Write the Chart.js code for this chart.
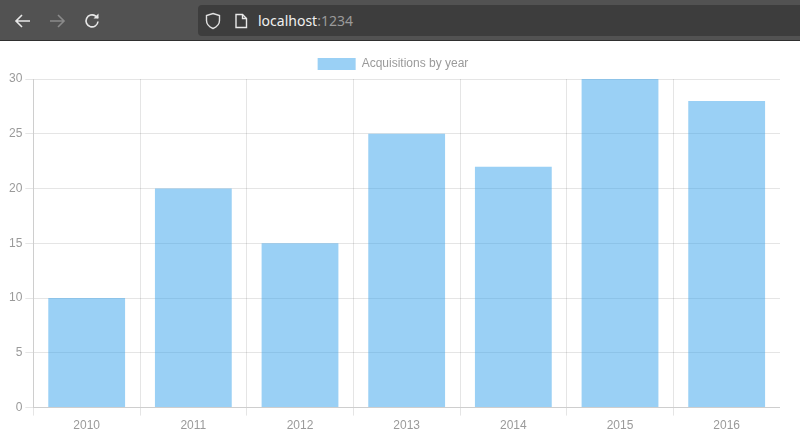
<!DOCTYPE html>
<html>
<head>
<meta charset="utf-8">
<title>Acquisitions by year</title>
<style>
  html, body { margin: 0; padding: 0; background: #fff; width: 800px; height: 440px; overflow: hidden; }
  #toolbar { position: absolute; left: 0; top: 0; width: 800px; height: 41px; background: #525252; border-bottom: 1px solid #2f2f2f; box-sizing: border-box; }
  #toolbar svg { position: absolute; }
  #urlbar { position: absolute; left: 198px; top: 5px; width: 602px; height: 31px; background: #3d3d3d; border-radius: 4px 0 0 4px; }
  #url { position: absolute; left: 258px; top: 11px; font: 14px/20px "Noto Sans", sans-serif; color: #f0f0f0; }
  #url span { color: #9a9a9a; }
  #chartBox { position: absolute; left: 6px; top: 47px; width: 774px; height: 389px; }
</style>
</head>
<body>
<div id="toolbar">
  <svg style="left:14px;top:12px" width="18" height="18" viewBox="0 0 18 18" fill="none" stroke="#e8e8e8" stroke-width="1.6"><path d="M16 9H2M8 3L2 9l6 6"/></svg>
  <svg style="left:48px;top:12px" width="18" height="18" viewBox="0 0 18 18" fill="none" stroke="#8a8a8a" stroke-width="1.6"><path d="M2 9h14M10 3l6 6-6 6"/></svg>
  <svg style="left:83px;top:12px" width="18" height="18" viewBox="0 0 18 18" fill="none" stroke="#e8e8e8" stroke-width="1.6"><path d="M15 9.500A6 6 0 1 1 12.500 4L15 6"/><path d="M15.500 1.500V6.500H10.500" fill="#e8e8e8" stroke="none"/></svg>
  <div id="urlbar"></div>
  <svg style="left:205px;top:12px" width="16" height="18" viewBox="0 0 16 18" fill="none" stroke="#e0e0e0" stroke-width="1.4"><path d="M8 1.500l6.500 2v5c0 4-3 6.500-6.500 8-3.500-1.500-6.500-4-6.500-8v-5z"/></svg>
  <svg style="left:234px;top:13px" width="14" height="16" viewBox="0 0 14 16" fill="none" stroke="#e8e8e8" stroke-width="1.4"><path d="M2 1.500h6.500L12.500 5.500v9h-10.500z"/><path d="M8.500 1.500v4h4"/></svg>
  <div id="url">localhost<span>:1234</span></div>
</div>
<div id="chartBox"><canvas id="chart"></canvas></div>

<script src="https://cdn.jsdelivr.net/npm/chart.js@4"></script>
<script>
const years = ['2010', '2011', '2012', '2013', '2014', '2015', '2016'];
const acquisitions = [10, 20, 15, 25, 22, 30, 28];

const tickColor = '#9a9a9a';
const gridColor = 'rgba(0, 0, 0, 0.1)';

Chart.defaults.font.family = '"Liberation Sans", Helvetica, Arial, sans-serif';
Chart.defaults.font.size = 12;

new Chart(document.getElementById('chart'), {
    type: 'bar',
    data: {
        labels: years,
        datasets: [
            {
                label: 'Acquisitions by year',
                data: acquisitions,
                backgroundColor: 'rgba(54, 162, 235, 0.5)',
                borderWidth: 0,
            },
        ],
    },
    options: {
        responsive: true,
        maintainAspectRatio: false,
        animation: false,
        layout: { padding: { top: 1 } },
        plugins: {
            legend: {
                maxHeight: 31,
                labels: { color: tickColor, boxWidth: 38, boxHeight: 12 },
            },
            tooltip: { enabled: false },
        },
        scales: {
            x: {
                grid: { color: gridColor },
                ticks: { color: tickColor },
            },
            y: {
                min: 0,
                max: 30,
                grid: { color: gridColor },
                ticks: { color: tickColor, stepSize: 5 },
            },
        },
    },
});
</script>
</body>
</html>
